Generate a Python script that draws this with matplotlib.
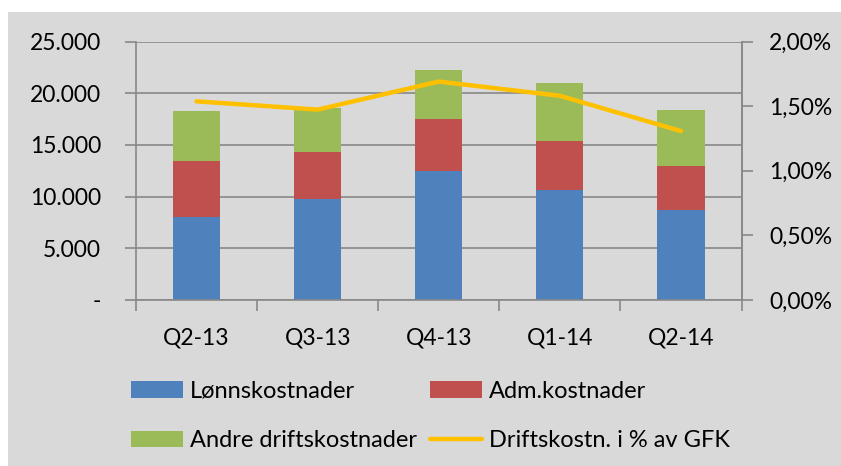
import matplotlib.pyplot as plt
from matplotlib.patches import Rectangle
from matplotlib.ticker import FuncFormatter, FixedLocator

quarters = ["Q2-13", "Q3-13", "Q4-13", "Q1-14", "Q2-14"]
lonn = [8000, 9800, 12480, 10650, 8680]
adm = [5450, 4530, 5040, 4740, 4290]
andre = [4840, 4270, 4740, 5580, 5420]
pct = [1.537, 1.473, 1.69, 1.58, 1.307]

bg = "#D9D9D9"
grid_col = "#888888"
plt.rcParams['font.family'] = ['Lato', 'DejaVu Sans']
fs = 16.5

fig = plt.figure(figsize=(8.41, 4.66), dpi=100, facecolor="white")
fig.patches.append(Rectangle((8 / 841, 0), 1, 1 - 12 / 466, transform=fig.transFigure,
                             facecolor=bg, edgecolor="none", zorder=-10))

ax = fig.add_axes([136 / 841, 1 - 300 / 466, (741.5 - 136) / 841, (300 - 41.5) / 466])
ax.set_facecolor("none")
x = list(range(len(quarters)))
w = 0.39

# stacked bars
bottom2 = [a + b for a, b in zip(lonn, adm)]
b1 = ax.bar(x, lonn, w, color="#4F81BD", label="Lønnskostnader", zorder=2)
b2 = ax.bar(x, adm, w, bottom=lonn, color="#C0504D", label="Adm.kostnader", zorder=2)
b3 = ax.bar(x, andre, w, bottom=bottom2, color="#9BBB59", label="Andre driftskostnader", zorder=2)

ax.set_xlim(-0.5, 4.5)
ax.set_ylim(0, 25000)
ax.set_yticks(range(0, 25001, 5000))
ax.yaxis.set_major_formatter(FuncFormatter(lambda v, p: "-" if v == 0 else f"{int(v):,}".replace(",", ".")))
ax.set_axisbelow(True)
ax.yaxis.grid(True, color=grid_col, linewidth=1.2, zorder=0)

ax.set_xticks(x)
ax.set_xticklabels(quarters)
ax.xaxis.set_minor_locator(FixedLocator([i - 0.5 for i in range(len(quarters) + 1)]))
ax.tick_params(axis="x", which="major", length=0, pad=20, labelsize=fs)
ax.tick_params(axis="x", which="minor", length=8, width=1.2, color=grid_col, direction="out")
ax.tick_params(axis="y", length=8, width=1.2, color=grid_col, pad=17, labelsize=fs)

ax.spines["top"].set_visible(False)
for s in ["left", "bottom", "right"]:
    ax.spines[s].set_color(grid_col)
    ax.spines[s].set_linewidth(1.2)

# percentage line on right axis
ax2 = ax.twinx()
l1, = ax2.plot(x, [p / 100 for p in pct], color="#FFC000", linewidth=3.2,
               solid_capstyle="round", label="Driftskostn. i % av GFK")
ax2.set_ylim(0, 0.02)
ax2.set_yticks([0, 0.005, 0.01, 0.015, 0.02])
ax2.yaxis.set_major_formatter(FuncFormatter(lambda v, p: f"{v * 100:.2f}%".replace(".", ",")))
ax2.tick_params(axis="y", length=8, width=1.2, color=grid_col, pad=12, labelsize=fs)
for s in ["top", "left", "bottom"]:
    ax2.spines[s].set_visible(False)
ax2.spines["right"].set_color(grid_col)
ax2.spines["right"].set_linewidth(1.2)

fig.legend([b1, b3, b2, l1],
           ["Lønnskostnader", "Andre driftskostnader", "Adm.kostnader", "Driftskostn. i % av GFK"],
           ncol=2, loc="upper left", bbox_to_anchor=(131 / 841, 1 - 381 / 466),
           frameon=False, fontsize=17, borderpad=0, borderaxespad=0,
           handlelength=2.2, handleheight=0.7, handletextpad=0.3,
           columnspacing=0.55, labelspacing=1.2)

fig.savefig("out.png", dpi=100, facecolor=fig.get_facecolor())
